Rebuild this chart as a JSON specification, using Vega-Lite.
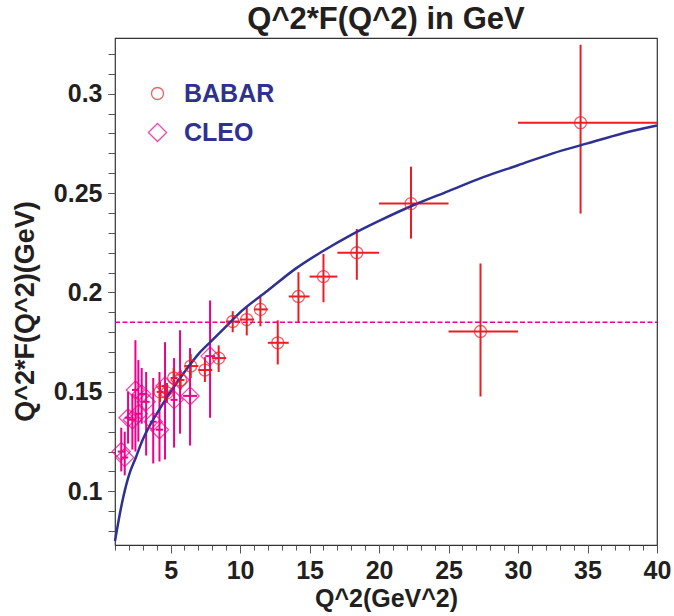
{
  "$schema": "https://vega.github.io/schema/vega-lite/v6.json",
  "width": 542,
  "height": 507,
  "autosize": {"type": "none"},
  "padding": {"left": 115, "top": 38, "right": 17, "bottom": 71},
  "title": {"text": "Q^2*F(Q^2) in GeV", "fontSize": 31, "fontWeight": "bold", "font": "Liberation Sans", "color": "#231f20", "anchor": "middle", "offset": 2},
  "config": {
    "view": {"stroke": "#333333", "strokeWidth": 1.2},
    "font": "Liberation Sans",
    "axis": {"grid": false, "domain": false, "labelFont": "Liberation Sans", "titleFont": "Liberation Sans", "labelColor": "#231f20", "titleColor": "#231f20", "tickColor": "#555555", "labelFlush": false, "labelOverlap": false},
    "legend": {"title": null, "orient": "none", "legendX": 30, "legendY": 43, "labelFontSize": 25, "labelFontWeight": "bold", "labelColor": "#2e3192", "labelFont": "Liberation Sans", "symbolStrokeWidth": 1.3, "symbolFillColor": "transparent", "labelOffset": 14, "rowPadding": 13, "labelExpr": "datum.value === 'CLEO' ? '\u2009\u2009\u2009CLEO' : datum.label"}
  },
  "datasets": {
    "hline": [{"x1": 1, "x2": 40, "y": 0.185}],
    "curve": [
      {"x": 1.0, "y": 0.075}, {"x": 1.5, "y": 0.094}, {"x": 2.0, "y": 0.108}, {"x": 2.5, "y": 0.117},
      {"x": 3.0, "y": 0.126}, {"x": 3.5, "y": 0.133}, {"x": 4.0, "y": 0.139}, {"x": 5.0, "y": 0.150},
      {"x": 6.0, "y": 0.160}, {"x": 7.0, "y": 0.169}, {"x": 8.0, "y": 0.176}, {"x": 9.0, "y": 0.183},
      {"x": 10.0, "y": 0.190}, {"x": 12.0, "y": 0.201}, {"x": 14.0, "y": 0.212}, {"x": 16.0, "y": 0.221},
      {"x": 18.0, "y": 0.229}, {"x": 20.0, "y": 0.236}, {"x": 22.5, "y": 0.244}, {"x": 25.0, "y": 0.251},
      {"x": 27.5, "y": 0.258}, {"x": 30.0, "y": 0.264}, {"x": 32.5, "y": 0.270}, {"x": 35.0, "y": 0.275},
      {"x": 37.5, "y": 0.280}, {"x": 40.0, "y": 0.284}
    ],
    "pts": [
      {"exp": "CLEO", "x": 1.45, "y": 0.120, "xlo": 1.2, "xhi": 1.7, "ylo": 0.110, "yhi": 0.132},
      {"exp": "CLEO", "x": 1.70, "y": 0.117, "xlo": 1.45, "xhi": 1.95, "ylo": 0.108, "yhi": 0.130},
      {"exp": "CLEO", "x": 1.94, "y": 0.137, "xlo": 1.7, "xhi": 2.2, "ylo": 0.124, "yhi": 0.150},
      {"exp": "CLEO", "x": 2.25, "y": 0.136, "xlo": 2.0, "xhi": 2.5, "ylo": 0.121, "yhi": 0.149},
      {"exp": "CLEO", "x": 2.47, "y": 0.151, "xlo": 2.22, "xhi": 2.72, "ylo": 0.120, "yhi": 0.176},
      {"exp": "CLEO", "x": 2.68, "y": 0.139, "xlo": 2.43, "xhi": 2.93, "ylo": 0.125, "yhi": 0.166},
      {"exp": "CLEO", "x": 2.92, "y": 0.149, "xlo": 2.67, "xhi": 3.17, "ylo": 0.134, "yhi": 0.162},
      {"exp": "CLEO", "x": 3.24, "y": 0.145, "xlo": 2.99, "xhi": 3.49, "ylo": 0.118, "yhi": 0.160},
      {"exp": "CLEO", "x": 3.75, "y": 0.135, "xlo": 3.5, "xhi": 4.0, "ylo": 0.114, "yhi": 0.157},
      {"exp": "CLEO", "x": 4.20, "y": 0.131, "xlo": 3.95, "xhi": 4.45, "ylo": 0.115, "yhi": 0.160},
      {"exp": "CLEO", "x": 4.60, "y": 0.153, "xlo": 4.35, "xhi": 4.85, "ylo": 0.116, "yhi": 0.175},
      {"exp": "CLEO", "x": 5.25, "y": 0.146, "xlo": 5.0, "xhi": 5.5, "ylo": 0.122, "yhi": 0.167},
      {"exp": "CLEO", "x": 5.68, "y": 0.156, "xlo": 5.43, "xhi": 5.93, "ylo": 0.129, "yhi": 0.181},
      {"exp": "CLEO", "x": 6.40, "y": 0.148, "xlo": 5.9, "xhi": 6.9, "ylo": 0.123, "yhi": 0.172},
      {"exp": "CLEO", "x": 7.84, "y": 0.168, "xlo": 7.5, "xhi": 8.2, "ylo": 0.137, "yhi": 0.196},
      {"exp": "BABAR", "x": 4.24, "y": 0.150, "xlo": 4.0, "xhi": 4.5, "ylo": 0.145, "yhi": 0.155},
      {"exp": "BABAR", "x": 4.74, "y": 0.1495, "xlo": 4.5, "xhi": 5.0, "ylo": 0.1445, "yhi": 0.1545},
      {"exp": "BABAR", "x": 5.22, "y": 0.157, "xlo": 5.0, "xhi": 5.5, "ylo": 0.152, "yhi": 0.162},
      {"exp": "BABAR", "x": 5.72, "y": 0.156, "xlo": 5.5, "xhi": 6.0, "ylo": 0.151, "yhi": 0.161},
      {"exp": "BABAR", "x": 6.45, "y": 0.163, "xlo": 6.0, "xhi": 7.0, "ylo": 0.157, "yhi": 0.169},
      {"exp": "BABAR", "x": 7.47, "y": 0.161, "xlo": 7.0, "xhi": 8.0, "ylo": 0.155, "yhi": 0.1675},
      {"exp": "BABAR", "x": 8.46, "y": 0.167, "xlo": 8.0, "xhi": 9.0, "ylo": 0.160, "yhi": 0.1734},
      {"exp": "BABAR", "x": 9.47, "y": 0.1854, "xlo": 9.0, "xhi": 10.0, "ylo": 0.180, "yhi": 0.1906},
      {"exp": "BABAR", "x": 10.48, "y": 0.1864, "xlo": 10.0, "xhi": 11.0, "ylo": 0.1784, "yhi": 0.1926},
      {"exp": "BABAR", "x": 11.46, "y": 0.1915, "xlo": 11.0, "xhi": 12.0, "ylo": 0.183, "yhi": 0.198},
      {"exp": "BABAR", "x": 12.71, "y": 0.1747, "xlo": 12.0, "xhi": 13.5, "ylo": 0.1638, "yhi": 0.186},
      {"exp": "BABAR", "x": 14.2, "y": 0.198, "xlo": 13.5, "xhi": 15.0, "ylo": 0.185, "yhi": 0.2102},
      {"exp": "BABAR", "x": 16.0, "y": 0.208, "xlo": 15.0, "xhi": 17.0, "ylo": 0.1951, "yhi": 0.2194},
      {"exp": "BABAR", "x": 18.4, "y": 0.220, "xlo": 17.0, "xhi": 20.0, "ylo": 0.2064, "yhi": 0.232},
      {"exp": "BABAR", "x": 22.3, "y": 0.2447, "xlo": 20.0, "xhi": 25.0, "ylo": 0.2271, "yhi": 0.2633},
      {"exp": "BABAR", "x": 27.3, "y": 0.1804, "xlo": 25.0, "xhi": 30.0, "ylo": 0.1477, "yhi": 0.2146},
      {"exp": "BABAR", "x": 34.5, "y": 0.2854, "xlo": 30.0, "xhi": 40.0, "ylo": 0.2397, "yhi": 0.3246}
    ]
  },
  "layer": [
    {
      "data": {"name": "hline"},
      "mark": {"type": "rule", "color": "#ec008c", "strokeDash": [5, 2.5], "strokeWidth": 1.6},
      "encoding": {
        "x": {"field": "x1", "type": "quantitative", "scale": {"domain": [1, 40], "nice": false, "zero": false},
          "axis": {"orient": "bottom", "values": [5, 10, 15, 20, 25, 30, 35, 40], "format": "d", "labelFontSize": 25, "labelFontWeight": "bold", "tickSize": 8, "labelPadding": 5, "title": "Q^2(GeV^2)", "titleFontSize": 25, "titleFontWeight": "bold", "titlePadding": 3}},
        "x2": {"field": "x2"},
        "y": {"field": "y", "type": "quantitative", "scale": {"domain": [0.073, 0.328], "nice": false, "zero": false},
          "axis": {"orient": "left", "values": [0.1, 0.15, 0.2, 0.25, 0.3], "format": ".2~f", "labelFontSize": 25, "labelFontWeight": "bold", "tickSize": 7, "labelPadding": 6, "title": "Q^2*F(Q^2)(GeV)", "titleFontSize": 27, "titleFontWeight": "bold", "titleX": -76, "titleY": 273, "titleAlign": "center"}}
      }
    },
    {
      "data": {"name": "pts"},
      "mark": {"type": "rule", "strokeWidth": 2},
      "encoding": {
        "x": {"field": "x", "type": "quantitative", "axis": {"orient": "bottom", "values": [1,2,3,4,5,6,7,8,9,10,11,12,13,14,15,16,17,18,19,20,21,22,23,24,25,26,27,28,29,30,31,32,33,34,35,36,37,38,39,40], "labels": false, "tickSize": 5, "title": null}},
        "y": {"field": "ylo", "type": "quantitative", "axis": {"orient": "left", "values": [0.08,0.09,0.1,0.11,0.12,0.13,0.14,0.15,0.16,0.17,0.18,0.19,0.2,0.21,0.22,0.23,0.24,0.25,0.26,0.27,0.28,0.29,0.3,0.31,0.32], "labels": false, "tickSize": 7, "title": null}},
        "y2": {"field": "yhi"},
        "color": {"field": "exp", "type": "nominal", "scale": {"domain": ["BABAR", "CLEO"], "range": ["#ed1c24", "#ec008c"]}}
      }
    },
    {
      "data": {"name": "pts"},
      "mark": {"type": "rule", "strokeWidth": 2},
      "encoding": {
        "x": {"field": "xlo", "type": "quantitative", "axis": null},
        "x2": {"field": "xhi"},
        "y": {"field": "y", "type": "quantitative", "axis": null},
        "color": {"field": "exp", "type": "nominal"}
      }
    },
    {
      "data": {"name": "curve"},
      "mark": {"type": "line", "color": "#2e3192", "strokeWidth": 2.5, "interpolate": "monotone"},
      "encoding": {
        "x": {"field": "x", "type": "quantitative", "axis": null},
        "y": {"field": "y", "type": "quantitative", "axis": null}
      }
    },
    {
      "data": {"name": "pts"},
      "mark": {"type": "point", "filled": false, "strokeWidth": 1.3},
      "encoding": {
        "x": {"field": "x", "type": "quantitative", "axis": null},
        "y": {"field": "y", "type": "quantitative", "axis": null},
        "color": {"field": "exp", "type": "nominal"},
        "shape": {"field": "exp", "type": "nominal", "scale": {"domain": ["BABAR", "CLEO"], "range": ["circle", "diamond"]}},
        "size": {"field": "exp", "type": "nominal", "scale": {"domain": ["BABAR", "CLEO"], "range": [144, 330]}}
      }
    }
  ],
  "resolve": {"axis": {"x": "independent", "y": "independent"}}
}
